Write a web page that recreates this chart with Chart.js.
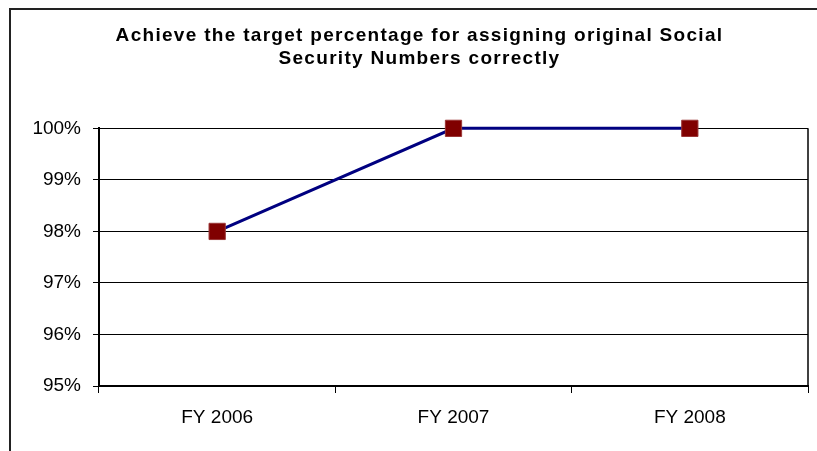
<!DOCTYPE html>
<html>
<head>
<meta charset="utf-8">
<script src="https://cdn.jsdelivr.net/npm/chart.js@4.4.1/dist/chart.umd.min.js"></script>
<style>
    html, body { margin: 0; padding: 0; background: #fff; }
    #wrap { width: 817px; height: 451px; }
</style>
</head>
<body>
<div id="wrap"><canvas id="ssnchart"></canvas></div>
<script>
var years = ['FY 2006', 'FY 2007', 'FY 2008'];
var pctCorrect = [0.98, 1.00, 1.00];
var yMin = 0.95;
var yMax = 1.00;
var yStep = 0.01;

// widen the title lettering only, tick labels keep normal spacing
var titleSpacing = {
    id: 'titleSpacing',
    afterLayout: function(chart) {
        var t = chart.titleBlock;
        if (!t || t._spaced) return;
        var draw = t.draw;
        t.draw = function() {
            chart.ctx.letterSpacing = '1.3px';
            draw.apply(this, arguments);
            chart.ctx.letterSpacing = '0px';
        };
        t._spaced = true;
    }
};

// outer frame plus the right edge of the plot area
var frame = {
    id: 'frame',
    afterDraw: function(chart) {
        var ctx = chart.ctx;
        var a = chart.chartArea;
        ctx.save();
        ctx.strokeStyle = '#222';
        ctx.lineWidth = 2;
        ctx.beginPath();
        ctx.moveTo(10, 451);
        ctx.lineTo(10, 9);
        ctx.lineTo(817, 9);
        ctx.stroke();
        ctx.strokeStyle = '#000';
        ctx.lineWidth = 1.5;
        ctx.beginPath();
        ctx.moveTo(a.right, a.top);
        ctx.lineTo(a.right, a.bottom);
        ctx.stroke();
        ctx.restore();
    }
};

var chart = new Chart(document.getElementById('ssnchart'), {
    type: 'line',
    data: {
        labels: years,
        datasets: [{
            data: pctCorrect,
            borderColor: '#000080',
            borderWidth: 3,
            pointStyle: 'rect',
            pointRadius: 11.5,
            pointHoverRadius: 11.5,
            pointBackgroundColor: '#800000',
            pointBorderColor: '#9a3535',
            pointBorderWidth: 1,
            tension: 0,
            clip: false
        }]
    },
    options: {
        responsive: true,
        maintainAspectRatio: false,
        animation: false,
        layout: {
            autoPadding: false,
            padding: { left: 31, right: 9, top: 0, bottom: 0 }
        },
        plugins: {
            legend: { display: false },
            tooltip: { enabled: false },
            title: {
                display: true,
                text: ['Achieve the target percentage for assigning original Social', 'Security Numbers correctly'],
                color: '#000',
                font: { family: '"Liberation Sans", Arial, sans-serif', size: 19, weight: 'bold', lineHeight: 1.22 },
                padding: { top: 24, bottom: 58 }
            }
        },
        scales: {
            x: {
                offset: true,
                afterFit: function(scale) {
                    scale.height = 65;
                    scale.paddingLeft = 0;
                    scale.paddingRight = 0;
                },
                grid: {
                    offset: true,
                    drawOnChartArea: false,
                    drawTicks: true,
                    tickLength: 7,
                    color: '#000'
                },
                border: { color: '#000', width: 2 },
                ticks: {
                    color: '#000',
                    padding: 13,
                    maxRotation: 0,
                    font: { family: '"Liberation Sans", Arial, sans-serif', size: 19 }
                }
            },
            y: {
                min: yMin,
                max: yMax,
                afterFit: function(scale) { scale.width = 68; },
                grid: {
                    color: '#000',
                    lineWidth: 1,
                    tickLength: 6
                },
                border: { color: '#000', width: 2 },
                ticks: {
                    stepSize: yStep,
                    color: '#000',
                    padding: 12,
                    font: { family: '"Liberation Sans", Arial, sans-serif', size: 19 },
                    callback: function(v) { return Math.round(v * 100) + '%'; }
                }
            }
        }
    },
    plugins: [titleSpacing, frame]
});
</script>
</body>
</html>
